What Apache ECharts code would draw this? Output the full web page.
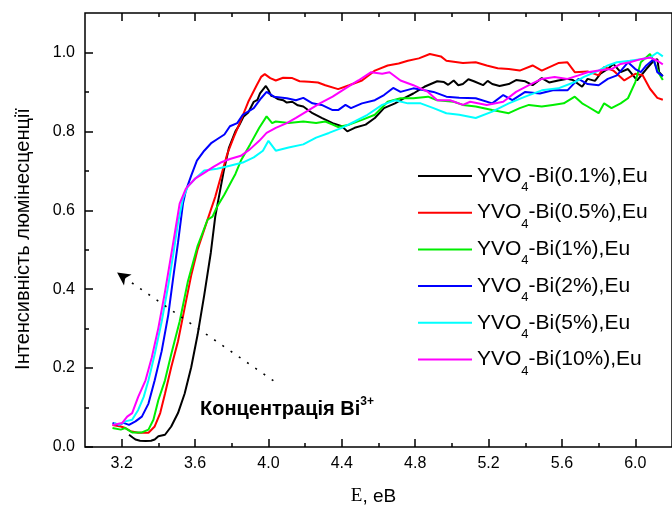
<!DOCTYPE html>
<html><head><meta charset="utf-8">
<script src="https://cdn.jsdelivr.net/npm/echarts@6/dist/echarts.min.js"></script>
<style>html,body{margin:0;padding:0;background:#fff}#c{width:672px;height:511px}</style>
</head><body><div id="c"></div>
<script>
// ---- data ----
const seriesNames = ['YVO4-Bi(0.1%),Eu','YVO4-Bi(0.5%),Eu','YVO4-Bi(1%),Eu','YVO4-Bi(2%),Eu','YVO4-Bi(5%),Eu','YVO4-Bi(10%),Eu'];
const xMajorTicks = [3.2,3.6,4.0,4.4,4.8,5.2,5.6,6.0];
const xMinorTicks = [3.4,3.8,4.2,4.6,5.0,5.4,5.8];
const yMajorTicks = [0,0.2,0.4,0.6,0.8,1.0];
const yMinorTicks = [0.1,0.3,0.5,0.7,0.9];
const xTitle = 'E, eB';
const yTitle = 'Інтенсивність люмінесценції';
const noteText = 'Концентрація Bi';
const noteSup = '3+';
const arrowFrom = [4.027,0.168];
const arrowTo = [3.175,0.442];

const bi01 = [[3.24,0.031],[3.26,0.024],[3.275,0.019],[3.3,0.016],[3.33,0.015],[3.36,0.016],[3.38,0.019],[3.40,0.027],[3.436,0.031],[3.47,0.052],[3.507,0.086],[3.543,0.135],[3.579,0.202],[3.614,0.285],[3.65,0.385],[3.686,0.493],[3.71,0.584],[3.73,0.634],[3.757,0.701],[3.785,0.759],[3.82,0.80],[3.84,0.815],[3.865,0.838],[3.89,0.848],[3.92,0.875],[3.94,0.88],[3.954,0.896],[3.986,0.915],[4.0,0.905],[4.015,0.89],[4.03,0.888],[4.05,0.882],[4.08,0.879],[4.10,0.873],[4.13,0.875],[4.16,0.866],[4.19,0.863],[4.24,0.846],[4.29,0.834],[4.35,0.821],[4.40,0.813],[4.43,0.80],[4.47,0.809],[4.53,0.817],[4.58,0.834],[4.63,0.859],[4.69,0.871],[4.74,0.884],[4.79,0.896],[4.85,0.913],[4.92,0.927],[4.957,0.925],[4.98,0.918],[5.01,0.929],[5.035,0.917],[5.06,0.92],[5.09,0.932],[5.12,0.927],[5.17,0.917],[5.195,0.928],[5.22,0.92],[5.26,0.915],[5.31,0.92],[5.35,0.93],[5.40,0.927],[5.44,0.917],[5.49,0.935],[5.53,0.924],[5.58,0.929],[5.63,0.933],[5.66,0.93],[5.71,0.913],[5.74,0.933],[5.78,0.928],[5.81,0.946],[5.85,0.958],[5.88,0.971],[5.92,0.95],[5.96,0.958],[6.01,0.929],[6.06,0.958],[6.10,0.979],[6.12,0.983],[6.13,0.95],[6.15,0.94]];
const bi05 = [[3.15,0.056],[3.195,0.052],[3.22,0.048],[3.248,0.04],[3.29,0.036],[3.346,0.036],[3.38,0.052],[3.41,0.086],[3.436,0.135],[3.47,0.202],[3.507,0.268],[3.543,0.352],[3.579,0.435],[3.614,0.501],[3.65,0.551],[3.686,0.601],[3.71,0.634],[3.75,0.701],[3.775,0.742],[3.81,0.784],[3.847,0.825],[3.89,0.875],[3.936,0.917],[3.96,0.938],[3.98,0.945],[4.01,0.935],[4.04,0.929],[4.08,0.936],[4.13,0.935],[4.17,0.927],[4.22,0.926],[4.27,0.924],[4.31,0.917],[4.38,0.907],[4.44,0.917],[4.51,0.929],[4.58,0.954],[4.65,0.967],[4.71,0.972],[4.76,0.979],[4.82,0.985],[4.88,0.996],[4.94,0.99],[4.97,0.979],[5.06,0.973],[5.13,0.975],[5.19,0.967],[5.25,0.96],[5.31,0.958],[5.37,0.954],[5.44,0.967],[5.49,0.954],[5.58,0.973],[5.63,0.975],[5.67,0.95],[5.74,0.952],[5.80,0.942],[5.83,0.963],[5.88,0.954],[5.94,0.929],[6.0,0.946],[6.04,0.942],[6.08,0.908],[6.12,0.885],[6.15,0.88]];
const bi1 = [[3.15,0.048],[3.195,0.044],[3.22,0.048],[3.257,0.037],[3.31,0.037],[3.346,0.044],[3.373,0.069],[3.40,0.119],[3.436,0.169],[3.47,0.235],[3.516,0.318],[3.56,0.418],[3.614,0.51],[3.668,0.576],[3.695,0.584],[3.72,0.609],[3.76,0.64],[3.8,0.675],[3.82,0.692],[3.85,0.726],[3.90,0.767],[3.95,0.809],[3.99,0.838],[4.02,0.821],[4.04,0.825],[4.11,0.821],[4.19,0.825],[4.26,0.821],[4.31,0.825],[4.35,0.817],[4.38,0.811],[4.44,0.817],[4.51,0.829],[4.58,0.842],[4.65,0.875],[4.72,0.884],[4.79,0.884],[4.87,0.888],[4.92,0.879],[5.01,0.875],[5.06,0.867],[5.13,0.863],[5.22,0.854],[5.31,0.846],[5.37,0.859],[5.42,0.867],[5.49,0.863],[5.55,0.867],[5.61,0.871],[5.67,0.888],[5.71,0.871],[5.74,0.863],[5.80,0.846],[5.83,0.871],[5.87,0.859],[5.92,0.871],[5.96,0.884],[6.0,0.925],[6.03,0.975],[6.08,0.996],[6.10,0.979],[6.13,0.946],[6.15,0.93]];
const bi2 = [[3.15,0.061],[3.186,0.056],[3.21,0.061],[3.24,0.056],[3.275,0.065],[3.31,0.077],[3.346,0.11],[3.38,0.169],[3.418,0.243],[3.454,0.335],[3.48,0.426],[3.507,0.518],[3.534,0.617],[3.55,0.65],[3.579,0.688],[3.61,0.726],[3.65,0.751],[3.69,0.771],[3.72,0.78],[3.76,0.792],[3.79,0.813],[3.83,0.821],[3.86,0.842],[3.92,0.859],[3.96,0.884],[3.99,0.90],[4.03,0.888],[4.10,0.884],[4.15,0.879],[4.19,0.885],[4.24,0.871],[4.29,0.867],[4.35,0.854],[4.38,0.854],[4.42,0.867],[4.45,0.859],[4.51,0.871],[4.58,0.879],[4.63,0.892],[4.68,0.91],[4.72,0.90],[4.79,0.909],[4.85,0.904],[4.90,0.90],[4.97,0.888],[5.04,0.885],[5.13,0.884],[5.22,0.871],[5.28,0.892],[5.33,0.879],[5.40,0.90],[5.48,0.896],[5.55,0.904],[5.63,0.904],[5.69,0.933],[5.74,0.92],[5.80,0.917],[5.85,0.933],[5.90,0.942],[5.96,0.975],[6.0,0.958],[6.03,0.95],[6.06,0.967],[6.10,0.983],[6.12,0.95],[6.15,0.94]];
const bi5 = [[3.159,0.061],[3.186,0.056],[3.22,0.065],[3.257,0.069],[3.29,0.094],[3.32,0.127],[3.346,0.169],[3.38,0.235],[3.418,0.318],[3.454,0.41],[3.48,0.485],[3.507,0.568],[3.534,0.63],[3.56,0.66],[3.6,0.68],[3.65,0.701],[3.72,0.705],[3.79,0.713],[3.86,0.721],[3.92,0.734],[3.97,0.751],[4.0,0.776],[4.04,0.751],[4.11,0.759],[4.19,0.767],[4.26,0.784],[4.33,0.796],[4.40,0.809],[4.47,0.825],[4.54,0.842],[4.62,0.867],[4.69,0.879],[4.76,0.871],[4.83,0.871],[4.90,0.859],[4.97,0.846],[5.04,0.842],[5.13,0.834],[5.22,0.85],[5.31,0.871],[5.40,0.888],[5.49,0.904],[5.58,0.909],[5.67,0.925],[5.72,0.938],[5.80,0.954],[5.85,0.967],[5.90,0.975],[5.97,0.979],[6.03,0.983],[6.08,0.987],[6.12,1.0],[6.15,0.99]];
const bi10 = [[3.15,0.056],[3.203,0.061],[3.23,0.077],[3.257,0.086],[3.29,0.127],[3.33,0.169],[3.364,0.227],[3.40,0.302],[3.436,0.393],[3.463,0.468],[3.49,0.543],[3.516,0.617],[3.55,0.655],[3.6,0.68],[3.65,0.695],[3.7,0.71],[3.74,0.721],[3.79,0.73],[3.85,0.738],[3.90,0.755],[3.95,0.776],[3.99,0.796],[4.04,0.809],[4.10,0.821],[4.15,0.834],[4.22,0.854],[4.28,0.871],[4.35,0.888],[4.42,0.909],[4.49,0.929],[4.56,0.95],[4.62,0.946],[4.66,0.95],[4.72,0.929],[4.79,0.917],[4.87,0.90],[4.92,0.879],[4.99,0.879],[5.06,0.867],[5.10,0.875],[5.19,0.867],[5.28,0.875],[5.35,0.90],[5.42,0.917],[5.49,0.933],[5.56,0.938],[5.63,0.933],[5.69,0.942],[5.74,0.95],[5.80,0.954],[5.87,0.958],[5.92,0.971],[5.97,0.975],[6.03,0.983],[6.08,0.987],[6.12,0.979],[6.15,0.97]];
const seriesData = [bi01, bi05, bi1, bi2, bi5, bi10];

// ---- chart ----
const FONT = '"Liberation Sans", Arial, sans-serif';
const lineColors = ['#000000','#ff0000','#00ee00','#0000ff','#00ffff','#ff00ff'];
const X_MIN = 3.0, X_MAX = 6.2, Y_MIN = 0, Y_MAX = 1.1;
const tickStyle = {color:'#000', width:1.5};

function xAx(pos, ticks, len, labels, extra){
  return Object.assign({
    type:'value', position:pos, min:X_MIN, max:X_MAX,
    axisLine:{show:false}, splitLine:{show:false},
    axisTick:{show:true, inside:true, length:len, customValues:ticks, lineStyle:tickStyle},
    axisLabel: labels ? {show:true, customValues:ticks, formatter:v=>v.toFixed(1), fontSize:16, color:'#000', fontFamily:FONT, margin:9} : {show:false}
  }, extra||{});
}
function yAx(ticks, len, labels, extra){
  return Object.assign({
    type:'value', position:'left', min:Y_MIN, max:Y_MAX,
    axisLine:{show:false}, splitLine:{show:false},
    axisTick:{show:true, inside:true, length:len, customValues:ticks, lineStyle:tickStyle},
    axisLabel: labels ? {show:true, customValues:ticks, formatter:v=>v.toFixed(1), fontSize:16, color:'#000', fontFamily:FONT, margin:10} : {show:false}
  }, extra||{});
}

const option = {
  animation:false,
  backgroundColor:'#fff',
  grid:{left:85, top:13, width:597, height:441, show:true, borderColor:'#000', borderWidth:1.5, containLabel:false},
  xAxis:[
    xAx('bottom', xMajorTicks, 8, true, {
      name:'{e|E}{r|, eB}', nameLocation:'middle', nameGap:40,
      nameTextStyle:{padding:[0,10,0,0], rich:{e:{fontFamily:'"Liberation Serif", serif', fontSize:19, color:'#000'}, r:{fontFamily:FONT, fontSize:19, color:'#000'}}}
    }),
    xAx('bottom', xMinorTicks, 4, false),
    xAx('top', xMajorTicks, 8, false),
    xAx('top', xMinorTicks, 4, false)
  ],
  yAxis:[
    yAx(yMajorTicks, 8, true, {
      name:yTitle, nameLocation:'middle', nameGap:52, nameRotate:90,
      nameTextStyle:{fontSize:20, color:'#000', fontFamily:FONT, padding:[0,18,0,0]}
    }),
    yAx(yMinorTicks, 4, false)
  ],
  legend:{
    data:seriesNames, orient:'vertical', left:413, top:153,
    icon:'rect', itemWidth:54, itemHeight:2, itemGap:0.7,
    formatter:n=>n.replace('YVO4','YVO{s|4}'),
    textStyle:{fontSize:21, lineHeight:36, color:'#000', fontFamily:FONT,
      rich:{s:{fontSize:13, lineHeight:13, verticalAlign:'bottom', color:'#000', fontFamily:FONT}}}
  },
  graphic:[{
    type:'text', left:200, top:396,
    style:{text:'{b|'+noteText+'}{p|'+noteSup+'}',
      rich:{b:{fontSize:20, fontWeight:'bold', fontFamily:FONT, fill:'#000', lineHeight:26},
            p:{fontSize:12, fontWeight:'bold', fontFamily:FONT, fill:'#000', lineHeight:13, verticalAlign:'top'}}}
  }],
  series: seriesNames.map((n,i)=>({
    name:n, type:'line', xAxisIndex:0, yAxisIndex:0, data:seriesData[i],
    showSymbol:false, symbol:'none', color:lineColors[i],
    lineStyle:{width:2, color:lineColors[i]},
    markLine: i===0 ? {silent:true, symbol:['none','arrow'], symbolSize:[10,13], animation:false,
      label:{show:false}, lineStyle:{color:'#000', type:[2,8], width:1.6},
      data:[[{coord:arrowFrom},{coord:arrowTo}]]} : undefined
  }))
};
const chart = echarts.init(document.getElementById('c'), null, {renderer:'canvas'});
chart.setOption(option);
</script></body></html>
